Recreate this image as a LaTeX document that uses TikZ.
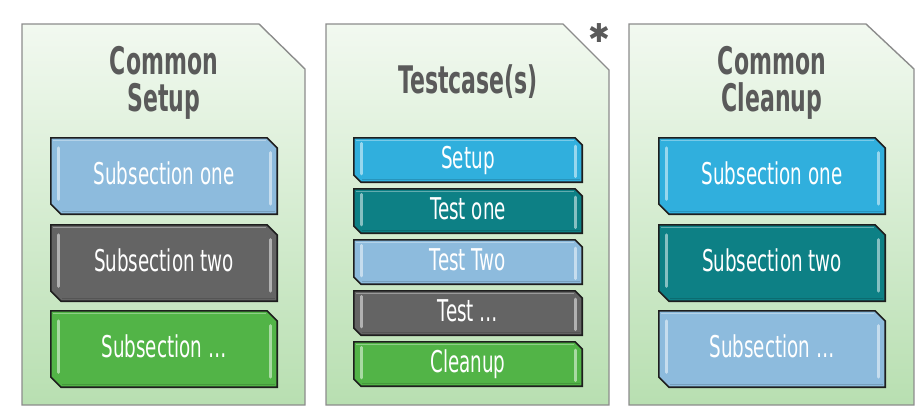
\documentclass[tikz,border=0pt]{standalone}
\usepackage{fontspec}
\setmainfont{DejaVu Sans}
\newfontfamily\boxfont[FakeStretch=0.61]{DejaVu Sans}
\newfontfamily\headfont[FakeStretch=0.58]{DejaVu Sans}
\newfontfamily\symfont{DejaVu Sans}
\usetikzlibrary{calc}

\definecolor{skyblue}{HTML}{8DBBDD}
\definecolor{slate}{HTML}{646464}
\definecolor{leaf}{HTML}{52B447}
\definecolor{cyanblue}{HTML}{30AFDD}
\definecolor{teal}{HTML}{0D8085}
\definecolor{headgray}{HTML}{5A5A5A}
\definecolor{panelline}{HTML}{8C8C8C}
\definecolor{boxline}{HTML}{1E1E1E}
\definecolor{paneltop}{HTML}{F2F9F0}
\definecolor{panelbottom}{HTML}{B8DFB1}

\tikzset{
  panel/.style={draw=panelline, line width=1.4pt, top color=paneltop, bottom color=panelbottom},
  head/.style={inner sep=0pt, align=center, text=headgray,
    font=\headfont\bfseries\fontsize{38}{37}\selectfont},
  % chamfered button: #1 fill colour, #2 chamfer size
  tbox/.style 2 args={inner sep=0pt, text=white,
    font=\boxfont\fontsize{30}{30}\selectfont, text height=22pt, text depth=6pt,
    path picture={
      \coordinate (nw) at (path picture bounding box.north west);
      \coordinate (ne) at (path picture bounding box.north east);
      \coordinate (sw) at (path picture bounding box.south west);
      \coordinate (se) at (path picture bounding box.south east);
      \filldraw[fill=#1, draw=boxline, line width=1.6pt, line join=miter]
        ([shift={(0.8,0.8)}]nw) -- ([shift={(-#2,0.8)}]ne) --
        ([shift={(-0.8,#2)}]ne) -- ([shift={(-0.8,-0.8)}]se) --
        ([shift={(#2,-0.8)}]sw) -- ([shift={(0.8,-#2)}]sw) -- cycle;
      \draw[white, opacity=0.35, line width=1.2pt]
        ([shift={(3,3.5)}]nw) -- ([shift={(-#2-1,3.5)}]ne);
      \draw[black, opacity=0.15, line width=1.5pt]
        ([shift={(#2+1,-3.5)}]sw) -- ([shift={(-3,-3.5)}]se);
      \draw[white!50!#1, line width=3pt, line cap=round]
        ($(nw)!0.14!(sw)+(8,0)$) -- ($(nw)!0.80!(sw)+(8,0)$);
      \draw[white!50!#1, line width=3pt, line cap=round]
        ($(ne)!0.20!(se)+(-8,0)$) -- ($(ne)!0.86!(se)+(-8,0)$);
    }},
  big/.style={minimum width=228pt, minimum height=78pt},
  small/.style={minimum width=230pt, minimum height=46pt}
}

\begin{document}
\begin{tikzpicture}[x=1pt, y=-1pt]
  \useasboundingbox (0,0) rectangle (918,410);

  % three panels with a cut corner
  \draw[panel] (22,24) -- (259,24) -- (305,69) -- (305,405) -- (22,405) -- cycle;
  \draw[panel] (326,24) -- (563,24) -- (609,70) -- (609,405) -- (326,405) -- cycle;
  \draw[panel] (629,24) -- (866,24) -- (914,69) -- (914,405) -- (629,405) -- cycle;

  % headings
  \node[head] (hsetup) at (164,83) {Common\\Setup};
  \node[head, anchor=base] (htest) at (468,93) {Testcase(s)};
  \node[head] (hclean) at (772,83) {Common\\Cleanup};
  \node[inner sep=0pt, text=headgray, font=\symfont\fontsize{26}{26}\selectfont]
    (star) at (599,33) {✱};

  % common setup
  \node[tbox={skyblue}{11}, big] (s1) at (164,176) {Subsection one};
  \node[tbox={slate}{11}, big]   (s2) at (164,263) {Subsection two};
  \node[tbox={leaf}{11}, big]    (s3) at (164,349) {Subsection \dots};

  % testcases
  \node[tbox={cyanblue}{8}, small] (t1) at (468,160) {Setup};
  \node[tbox={teal}{8}, small]     (t2) at (468,211) {Test one};
  \node[tbox={skyblue}{8}, small]  (t3) at (468,262) {Test Two};
  \node[tbox={slate}{8}, small]    (t4) at (468,313) {Test \dots};
  \node[tbox={leaf}{8}, small]     (t5) at (468,364) {Cleanup};

  % common cleanup
  \node[tbox={cyanblue}{11}, big] (c1) at (772,176) {Subsection one};
  \node[tbox={teal}{11}, big]     (c2) at (772,263) {Subsection two};
  \node[tbox={skyblue}{11}, big]  (c3) at (772,349) {Subsection \dots};
\end{tikzpicture}
\end{document}
